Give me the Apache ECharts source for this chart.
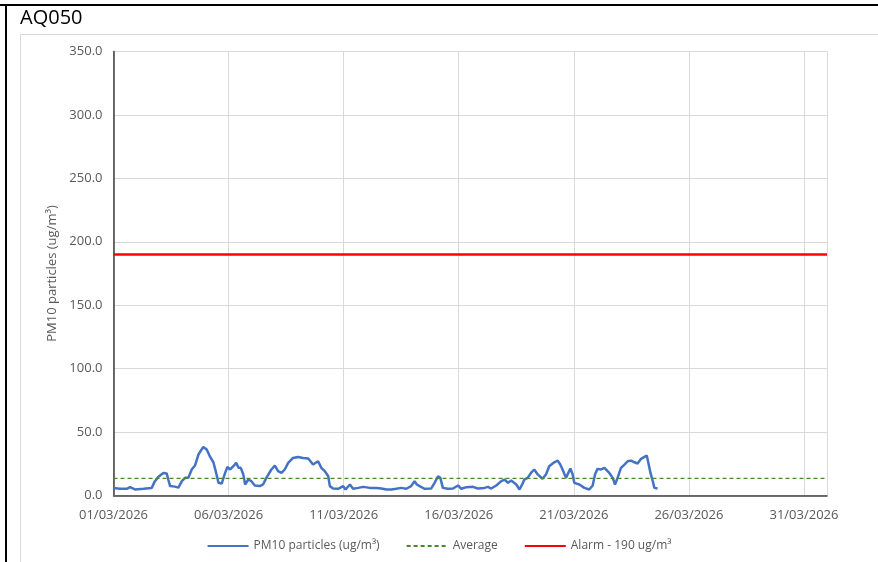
<!DOCTYPE html>
<html>
<head>
<meta charset="utf-8">
<script src="https://cdn.jsdelivr.net/npm/echarts@6/dist/echarts.min.js"></script>
<style>
html,body{margin:0;padding:0;background:#fff;}
#chart{width:878px;height:562px;}
</style>
</head>
<body>
<div id="chart"></div>
<script>
// Day offsets from 01/03/2026 00:00
var days = [0.00,0.28,0.57,0.72,0.93,1.30,1.66,1.80,1.95,2.17,2.31,2.38,2.46,2.67,2.82,2.97,3.11,3.25,3.40,3.54,3.69,3.90,4.05,4.20,4.34,4.46,4.56,4.70,4.85,4.95,5.07,5.21,5.33,5.43,5.53,5.64,5.72,5.86,5.99,6.14,6.36,6.50,6.64,6.86,7.01,7.15,7.30,7.44,7.59,7.80,8.02,8.24,8.46,8.67,8.89,9.03,9.18,9.33,9.40,9.54,9.76,9.98,10.08,10.27,10.41,10.63,10.85,11.14,11.43,11.64,11.86,12.07,12.28,12.50,12.72,12.93,13.08,13.18,13.30,13.51,13.80,13.95,14.10,14.20,14.31,14.53,14.75,14.97,15.11,15.33,15.62,15.83,16.12,16.27,16.41,16.63,16.85,16.99,17.14,17.28,17.50,17.64,17.79,17.85,17.99,18.14,18.28,18.43,18.64,18.79,18.93,19.01,19.15,19.30,19.41,19.51,19.66,19.73,19.85,19.95,20.02,20.24,20.46,20.67,20.82,20.92,21.03,21.18,21.33,21.54,21.69,21.79,21.90,22.05,22.20,22.34,22.49,22.63,22.77,22.92,23.07,23.17,23.24,23.33,23.43,23.50,23.64];
var pm10 = [6.0,5.3,5.3,6.6,4.8,5.3,6.0,11.3,14.7,17.8,17.4,12.6,7.4,7.0,6.2,11.3,13.9,13.9,20.5,23.6,32.3,38.3,36.2,30.4,26.2,17.8,10.0,9.4,17.8,22.5,20.5,23.1,25.7,21.8,21.8,16.6,8.7,12.6,11.3,7.9,7.4,8.7,13.9,20.5,23.6,19.2,17.8,20.5,25.7,29.6,30.4,29.6,29.1,24.4,27.0,21.8,19.2,15.2,7.4,5.6,5.3,7.4,4.7,8.7,5.3,6.0,6.8,6.0,6.0,5.5,4.7,4.7,5.3,6.0,5.3,7.4,11.3,8.7,7.4,5.3,5.5,10.0,15.2,13.9,6.0,5.3,5.5,7.9,5.3,6.6,6.8,5.5,6.0,6.8,5.5,7.9,11.3,12.6,10.0,11.8,8.7,4.7,10.0,12.6,13.9,17.8,20.5,16.6,13.2,16.6,23.1,24.4,26.2,27.5,24.4,20.5,13.9,13.9,21.3,16.6,10.0,8.7,6.0,4.7,7.9,16.6,21.0,20.5,21.8,17.8,13.9,8.7,13.9,21.8,24.4,27.0,27.5,26.2,25.2,28.9,30.4,31.5,25.7,17.8,11.3,6.0,5.5];
var averageValue = 13.5;
var alarmValue = 190;
var xTickLabels = ['01/03/2026','06/03/2026','11/03/2026','16/03/2026','21/03/2026','26/03/2026','31/03/2026'];
var xMaxDay = 31;
var seriesNames = ['PM10 particles (ug/m\u00b3)','Average','Alarm - 190 ug/m\u00b3'];

var pmData = days.map(function(d,i){return [d,pm10[i]];});
var avgData = [[0,averageValue],[xMaxDay,averageValue]];
var alarmData = [[0,alarmValue],[xMaxDay,alarmValue]];

var FONT = 'Open Sans';
var chart = echarts.init(document.getElementById('chart'));
chart.setOption({
  animation:false,
  backgroundColor:'#fff',
  textStyle:{fontFamily:FONT},
  graphic:[
    {type:'line',shape:{x1:0,y1:5,x2:878,y2:5},style:{stroke:'#000',lineWidth:2},z:100},
    {type:'line',shape:{x1:6,y1:5,x2:6,y2:562},style:{stroke:'#000',lineWidth:2},z:100},
    {type:'line',shape:{x1:20.5,y1:34.5,x2:20.5,y2:562},style:{stroke:'#D9D9D9',lineWidth:1},z:100},
    {type:'line',shape:{x1:20.5,y1:34.5,x2:878,y2:34.5},style:{stroke:'#D9D9D9',lineWidth:1},z:100},
    {type:'text',left:20,top:8,style:{text:'AQ050',font:'20px "Open Sans"',fill:'#000'}}
  ],
  grid:{left:113.5,top:51.5,right:51,bottom:66.5,containLabel:false},
  legend:{
    bottom:5,left:'center',
    itemWidth:41,itemHeight:10,itemGap:26,
    itemStyle:{opacity:0},
    textStyle:{fontFamily:FONT,fontSize:12,color:'#595959'},
    data:seriesNames
  },
  xAxis:[{
    type:'value',min:0,max:xMaxDay,interval:5,
    axisLine:{show:true,lineStyle:{color:'#D9D9D9',width:1}},
    axisTick:{show:false},
    splitLine:{show:true,lineStyle:{color:'#D9D9D9',width:1}},
    axisLabel:{
      color:'#595959',fontSize:13,fontFamily:FONT,margin:13,showMaxLabel:false,
      formatter:function(v){var i=Math.round(v/5);return (Math.abs(v-i*5)<1e-6 && xTickLabels[i])?xTickLabels[i]:'';}
    }
  },{
    type:'value',min:0,max:xMaxDay,position:'top',
    axisLine:{show:true,lineStyle:{color:'#404040',width:1.5}},
    axisTick:{show:false},axisLabel:{show:false},splitLine:{show:false}
  }],
  yAxis:[{
    type:'value',min:0,max:350,interval:50,
    name:'PM10 particles (ug/m\u00b3)',nameLocation:'middle',nameGap:55,
    nameTextStyle:{color:'#595959',fontSize:13,fontFamily:FONT},
    axisLine:{show:true,lineStyle:{color:'#BFBFBF',width:1}},
    axisTick:{show:false},
    splitLine:{show:true,lineStyle:{color:'#D9D9D9',width:1}},
    axisLabel:{color:'#595959',fontSize:13,fontFamily:FONT,margin:11,formatter:function(v){return v.toFixed(1);}}
  },{
    type:'value',min:0,max:350,interval:50,position:'right',
    axisLine:{show:true,lineStyle:{color:'#404040',width:1.5}},
    axisTick:{show:false},axisLabel:{show:false},splitLine:{show:false}
  }],
  series:[
    {name:seriesNames[0],type:'line',data:pmData,symbol:'none',
     lineStyle:{color:'#4472C4',width:2.5},itemStyle:{color:'#4472C4'},z:3},
    {name:seriesNames[1],type:'line',data:avgData,symbol:'none',
     lineStyle:{color:'#478A2A',width:1.3,type:[4,3]},itemStyle:{color:'#478A2A'},z:4},
    {name:seriesNames[2],type:'line',data:alarmData,symbol:'none',
     lineStyle:{color:'#FF0000',width:2.5},itemStyle:{color:'#FF0000'},z:4}
  ]
});
</script>
</body>
</html>
